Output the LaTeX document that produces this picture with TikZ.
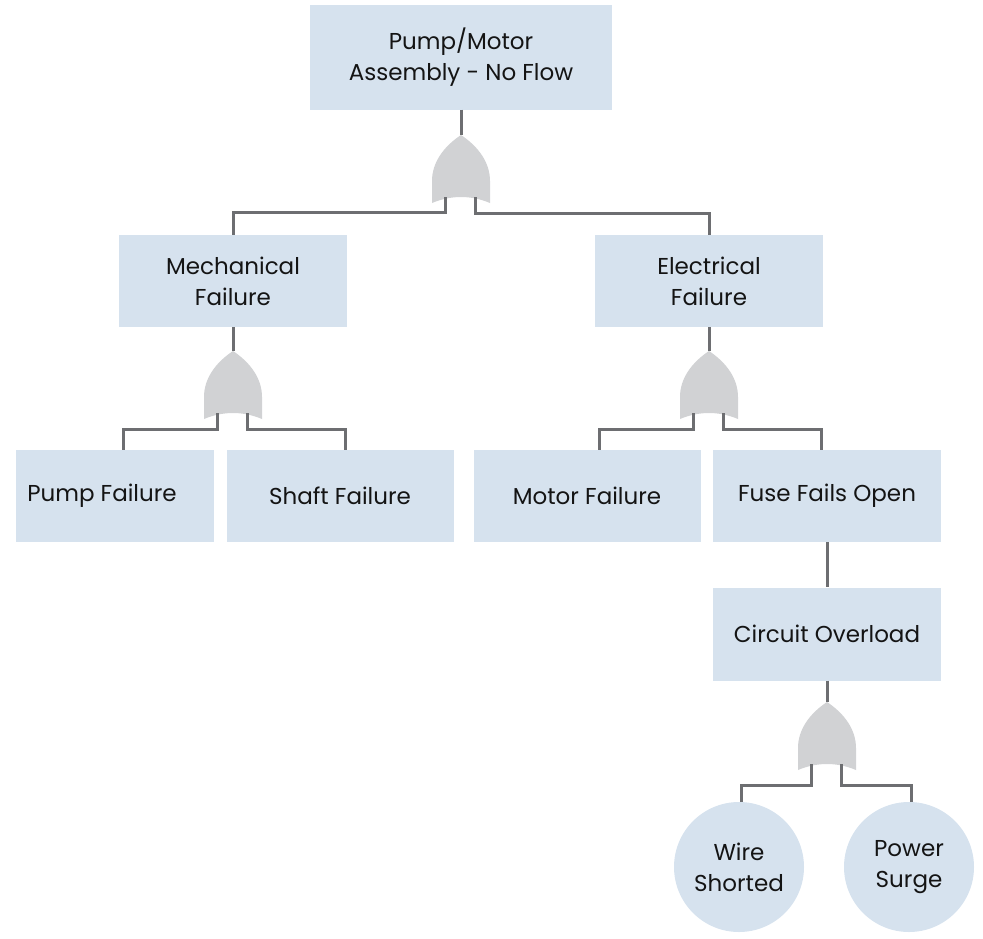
\documentclass[tikz,border=0pt]{standalone}
\usepackage{fontspec}
\setmainfont{Poppins}
\usetikzlibrary{positioning, calc}
\definecolor{boxfill}{HTML}{D6E2EE}
\definecolor{gatefill}{HTML}{D1D2D4}
\definecolor{wire}{HTML}{6D6E71}
\definecolor{ink}{HTML}{141414}

\tikzset{
  event/.style={rectangle, fill=boxfill, text=ink, align=center,
    minimum width=228pt, minimum height=92pt, inner sep=0pt},
  basic/.style={circle, fill=boxfill, text=ink, align=center,
    minimum size=130pt, inner sep=0pt},
  link/.style={draw=wire, line width=3pt},
  pics/orgate/.style={code={
    \fill[gatefill] (0,0) .. controls (18,12) and (29,28) .. (29,46)
      -- (29,68) .. controls (10,60) and (-10,60) .. (-29,68)
      -- (-29,46) .. controls (-29,28) and (-18,12) .. (0,0) -- cycle;
    \coordinate (-top) at (0,0);
    \coordinate (-l) at (-16,62);
    \coordinate (-r) at (14,62);
  }}
}

\begin{document}
\begin{tikzpicture}[x=1pt, y=-1pt, font=\fontsize{23}{31}\selectfont]
  \useasboundingbox (0,0) rectangle (983,938);

  % events
  \node[event, minimum width=302pt, minimum height=105pt] (top) at (461,57)
    {Pump/Motor\\Assembly - No Flow};
  \node[event] (mech) at (233,281) {Mechanical\\Failure};
  \node[event] (elec) at (709,281) {Electrical\\Failure};
  \node[event, minimum width=198pt] (pump) at (115,496) {Pump Failure\hspace{26pt}};
  \node[event, minimum width=227pt] (shaft) at (340,496) {Shaft Failure};
  \node[event, minimum width=227pt] (motor) at (587,496) {Motor Failure};
  \node[event] (fuse) at (827,496) {Fuse Fails Open};
  \node[event, minimum height=93pt] (circ) at (827,634) {Circuit Overload};
  \node[basic] (wire) at (739,867) {Wire\\Shorted};
  \node[basic] (surge) at (909,867) {Power\\Surge};

  % gates
  \pic (g1) at (461,135) {orgate};
  \pic (g2) at (233,351) {orgate};
  \pic (g3) at (709,351) {orgate};
  \pic (g4) at (827,702) {orgate};

  % connectors
  \draw[link] (top.south) -- (g1-top);
  \draw[link] (g1-l) -- ++(0,15) -| (mech.north);
  \draw[link] (g1-r) -- ++(0,16) -| (elec.north);

  \draw[link] (mech.south) -- (g2-top);
  \draw[link] (g2-l) -- ++(0,16) -| ([xshift=8pt]pump.north);
  \draw[link] (g2-r) -- ++(0,16) -| ([xshift=5pt]shaft.north);

  \draw[link] (elec.south) -- (g3-top);
  \draw[link] (g3-l) -- ++(0,16) -| ([xshift=12pt]motor.north);
  \draw[link] (g3-r) -- ++(0,16) -| ([xshift=-6pt]fuse.north);

  \draw[link] (fuse.south) -- (circ.north);
  \draw[link] (circ.south) -- (g4-top);
  \draw[link] (g4-l) -- ++(0,21) -| ([xshift=2pt]wire.north);
  \draw[link] (g4-r) -- ++(0,21) -| ([xshift=2pt]surge.north);
\end{tikzpicture}
\end{document}
